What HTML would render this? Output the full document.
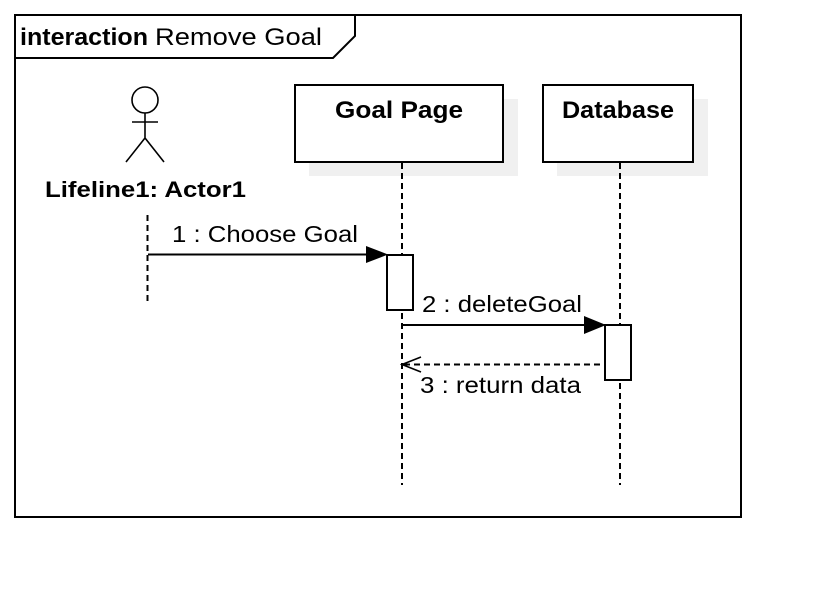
<!DOCTYPE html>
<html><head><style>body{margin:0;background:#fff}</style></head><body>
<svg width="826" height="602" xmlns="http://www.w3.org/2000/svg" font-family="Liberation Sans, sans-serif">
<rect x="0" y="0" width="826" height="602" fill="#fff"/>
<rect x="15" y="15" width="726" height="502" fill="none" stroke="#000" stroke-width="2"/>
<path d="M15 58 H333 L355 36 V15" fill="none" stroke="#000" stroke-width="2"/>
<text x="20" y="45" font-size="24" font-weight="bold" textLength="128" lengthAdjust="spacingAndGlyphs">interaction</text>
<text x="155" y="45" font-size="24" textLength="167" lengthAdjust="spacingAndGlyphs">Remove  Goal</text>
<!-- actor -->
<circle cx="145" cy="100" r="13" fill="none" stroke="#000" stroke-width="1.6"/>
<path d="M145 113 V138 M132 122 H158 M145 138 L126 162 M145 138 L164 162" stroke="#000" stroke-width="1.6" fill="none"/>
<text x="45" y="197" font-size="22" font-weight="bold" textLength="201" lengthAdjust="spacingAndGlyphs">Lifeline1: Actor1</text>
<line x1="147.5" y1="215" x2="147.5" y2="305" stroke="#000" stroke-width="2" stroke-dasharray="6,4"/>
<!-- shadows -->
<rect x="309" y="99" width="209" height="77" fill="#f0f0f0"/>
<rect x="557" y="99" width="151" height="77" fill="#f0f0f0"/>
<rect x="295" y="85" width="208" height="77" fill="#fff" stroke="#000" stroke-width="2"/>
<rect x="543" y="85" width="150" height="77" fill="#fff" stroke="#000" stroke-width="2"/>
<text x="335" y="118" font-size="24" font-weight="bold" textLength="128" lengthAdjust="spacingAndGlyphs">Goal Page</text>
<text x="562" y="118" font-size="24" font-weight="bold" textLength="112" lengthAdjust="spacingAndGlyphs">Database</text>
<line x1="402" y1="163" x2="402" y2="485" stroke="#000" stroke-width="2" stroke-dasharray="6,4"/>
<line x1="620" y1="163" x2="620" y2="485" stroke="#000" stroke-width="2" stroke-dasharray="6,4"/>
<!-- messages -->
<line x1="148" y1="254.5" x2="370" y2="254.5" stroke="#000" stroke-width="2"/>
<polygon points="366,246 388,254.5 366,263" fill="#000"/>
<text x="172" y="242" font-size="23" textLength="186" lengthAdjust="spacingAndGlyphs">1 : Choose Goal</text>
<rect x="387" y="255" width="26" height="55" fill="#fff" stroke="#000" stroke-width="2"/>
<line x1="402" y1="325" x2="590" y2="325" stroke="#000" stroke-width="2"/>
<polygon points="584,316 606,325 584,334" fill="#000"/>
<text x="422" y="312" font-size="23" textLength="160" lengthAdjust="spacingAndGlyphs">2 : deleteGoal</text>
<rect x="605" y="325" width="26" height="55" fill="#fff" stroke="#000" stroke-width="2"/>
<line x1="404" y1="364.5" x2="605" y2="364.5" stroke="#000" stroke-width="2" stroke-dasharray="6,4"/>
<path d="M421 357 L402 364.5 L421 372" fill="none" stroke="#000" stroke-width="1.6"/>
<text x="420" y="393" font-size="23" textLength="161" lengthAdjust="spacingAndGlyphs">3 : return data</text>
</svg>
</body></html>
